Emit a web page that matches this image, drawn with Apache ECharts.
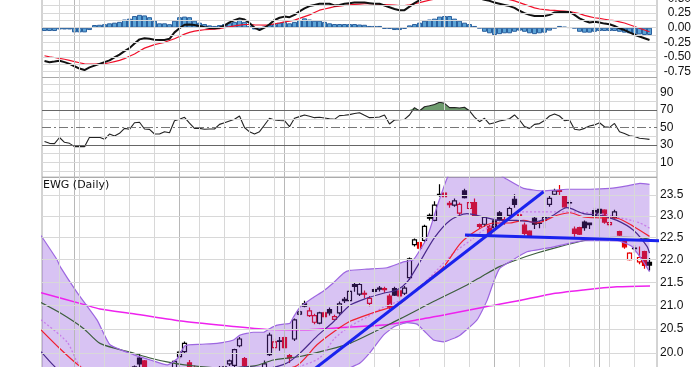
<!DOCTYPE html>
<html><head><meta charset="utf-8">
<script src="https://cdn.jsdelivr.net/npm/echarts@6/dist/echarts.min.js"></script>
<style>html,body{margin:0;padding:0;background:#fff}#c{width:700px;height:367px}</style>
</head><body><div id="c"></div>
<script>
// ---- data (day index 0..122, last slot empty) ----
const days = Array.from({length:123}, (_, i) => String(i));
// candles: [open, close, low, high]
const candles = [
[19.6,19.5,19.4,19.7],[19.5,19.35,19.3,19.55],[19.4,19.35,19.25,19.45],[19.35,19.55,19.3,19.6],[19.5,19.35,19.3,19.55],
[19.35,19.3,19.2,19.4],[19.3,19.12,19.05,19.35],[19.15,19.1,19.0,19.2],[19.1,19.08,18.95,19.15],[19.1,19.4,19.05,19.45],
[19.4,19.38,19.3,19.5],[19.35,19.42,19.3,19.5],[19.45,19.35,19.3,19.5],[19.35,19.5,19.3,19.55],[19.5,19.45,19.4,19.55],
[19.45,19.55,19.4,19.6],[19.55,19.68,19.5,19.72],[19.7,19.64,19.58,19.73],[19.62,19.72,19.6,19.75],[19.9,19.78,19.7,19.98],
[19.84,19.65,19.6,19.86],[19.66,19.62,19.55,19.7],[19.6,19.5,19.45,19.63],[19.5,19.48,19.4,19.55],[19.48,19.56,19.45,19.6],
[19.56,19.5,19.45,19.6],[19.6,19.83,19.55,19.85],[19.93,20.02,19.88,20.06],[20.03,20.2,20.0,20.24],[19.8,19.72,19.65,19.86],
[19.7,19.65,19.6,19.75],[19.64,19.66,19.58,19.72],[19.66,19.6,19.55,19.7],[19.6,19.62,19.55,19.68],[19.62,19.62,19.55,19.7],
[19.62,19.7,19.58,19.74],[19.7,19.72,19.65,19.75],[19.78,19.84,19.74,19.87],[19.75,20.07,19.7,20.09],[20.15,20.29,20.12,20.33],
[19.89,19.75,19.7,19.92],[19.72,19.6,19.55,19.74],[19.6,19.5,19.45,19.62],[19.5,19.58,19.45,19.62],[19.7,19.78,19.65,19.85],
[19.97,20.37,19.94,20.42],[20.11,20.23,20.05,20.3],[20.24,20.25,20.05,20.33],[20.32,20.11,20.08,20.35],[19.95,19.9,19.8,19.98],
[20.29,20.69,20.25,20.72],[20.81,20.86,20.78,20.9],[21.03,20.98,20.96,21.1],[20.78,20.88,20.75,20.95],[20.64,20.78,20.6,20.82],
[20.62,20.84,20.6,20.86],[20.84,20.76,20.72,20.88],[20.91,20.84,20.78,20.95],[20.7,20.76,20.68,20.8],[20.84,21.03,20.8,21.08],
[21.13,21.1,21.05,21.18],[21.1,21.3,21.08,21.33],[21.45,21.41,21.29,21.5],[21.24,21.45,21.2,21.48],[21.26,21.24,21.15,21.32],
[21.04,21.15,20.98,21.2],[21.34,21.3,21.25,21.38],[21.35,21.37,21.3,21.42],[21.36,21.34,21.27,21.4],[21.2,20.96,20.92,21.25],
[21.36,21.22,21.2,21.4],[21.31,21.2,21.15,21.35],[21.26,21.37,21.22,21.42],[21.6,22.02,21.55,22.05],[22.34,22.45,22.3,22.48],
[22.39,22.26,22.22,22.42],[22.44,22.76,22.4,22.8],[23.02,22.95,22.9,23.06],[22.9,23.26,22.88,23.35],[23.5,23.52,23.46,23.76],
[23.55,23.46,23.44,23.58],[23.3,23.27,23.2,23.36],[23.26,23.36,23.22,23.42],[23.07,23.28,23.0,23.32],[23.6,23.44,23.42,23.65],
[23.18,23.32,23.15,23.34],[23.32,23.02,22.98,23.42],[22.8,22.76,22.7,22.83],[22.81,22.97,22.75,23.0],[22.76,22.58,22.55,22.8],
[22.89,22.73,22.68,22.92],[23.08,22.9,22.88,23.12],[22.92,22.88,22.8,22.98],[23.02,23.18,22.98,23.22],[23.4,23.28,23.2,23.52],
[23.03,23.01,22.98,23.08],[22.79,22.6,22.55,22.85],[22.65,22.53,22.5,22.67],[22.95,22.81,22.7,23.0],[22.83,22.84,22.72,22.88],
[22.9,22.97,22.72,23.0],[23.28,23.42,23.22,23.5],[23.52,23.6,23.48,23.65],[23.61,23.59,23.48,23.74],[23.48,23.22,23.2,23.5],
[23.31,23.32,23.15,23.38],[22.7,22.6,22.52,22.76],[22.73,22.58,22.56,22.75],[22.86,22.73,22.66,22.9],[22.84,22.8,22.7,22.85],
[23.13,22.98,22.94,23.2],[23.16,23.07,23.05,23.18],[23.14,22.86,22.82,23.16],[22.8,22.85,22.76,22.92],[22.97,23.1,22.94,23.15],
[22.64,22.56,22.54,22.66],[22.41,22.29,22.25,22.44],[22.0,22.15,21.98,22.17],[22.25,22.26,22.15,22.33],[21.95,22.05,21.9,22.3],
[22.18,21.87,21.8,22.2],[21.94,21.88,21.76,22.04]
];
const macd = [-0.57,-0.59,-0.58,-0.565,-0.59,-0.62,-0.66,-0.70,-0.725,-0.68,-0.65,-0.62,-0.59,-0.56,-0.51,-0.46,-0.40,-0.35,-0.27,-0.20,
-0.18,-0.19,-0.205,-0.21,-0.21,-0.19,-0.08,-0.01,0.05,0.055,0.045,0.03,0.01,-0.005,-0.01,0.0,0.04,0.09,0.13,0.16,
0.14,0.08,0.0,-0.04,0.0,0.06,0.13,0.17,0.19,0.18,0.22,0.28,0.33,0.37,0.39,0.41,0.41,0.41,0.38,0.39,
0.41,0.42,0.43,0.43,0.43,0.42,0.41,0.41,0.38,0.35,0.32,0.30,0.30,0.36,0.42,0.47,0.52,0.56,0.60,0.63,
0.65,0.64,0.63,0.62,0.61,0.58,0.54,0.50,0.48,0.46,0.43,0.41,0.39,0.37,0.34,0.29,0.25,0.22,0.20,0.20,
0.20,0.22,0.26,0.27,0.27,0.27,0.22,0.16,0.12,0.09,0.10,0.09,0.07,0.06,0.03,-0.01,-0.04,-0.08,-0.12,-0.15,
-0.18,-0.21];
const signal = [-0.48,-0.50,-0.51,-0.525,-0.54,-0.56,-0.58,-0.60,-0.62,-0.625,-0.625,-0.62,-0.615,-0.60,-0.58,-0.56,-0.53,-0.49,-0.45,-0.40,
-0.35,-0.32,-0.29,-0.27,-0.25,-0.22,-0.19,-0.15,-0.11,-0.08,-0.06,-0.045,-0.035,-0.03,-0.025,-0.015,0.0,0.015,0.03,0.045,
0.055,0.055,0.05,0.046,0.045,0.05,0.065,0.08,0.10,0.11,0.13,0.16,0.19,0.22,0.26,0.30,0.32,0.34,0.36,0.37,
0.38,0.39,0.40,0.405,0.41,0.41,0.41,0.40,0.395,0.39,0.385,0.38,0.38,0.39,0.41,0.43,0.45,0.47,0.49,0.51,
0.53,0.54,0.55,0.56,0.57,0.575,0.575,0.57,0.56,0.55,0.535,0.52,0.50,0.48,0.46,0.43,0.40,0.37,0.34,0.32,
0.31,0.30,0.295,0.29,0.285,0.275,0.26,0.24,0.21,0.19,0.17,0.16,0.145,0.13,0.12,0.10,0.08,0.05,0.02,-0.01,
-0.04,-0.07];
const hist = [-0.057,-0.057,-0.057,-0.03,-0.03,-0.03,-0.08,-0.08,-0.08,-0.04,0.046,0.05,0.06,0.075,0.086,0.1,0.14,0.155,0.2,0.22,
0.21,0.18,0.12,0.075,0.075,0.06,0.12,0.18,0.19,0.18,0.12,0.086,0.063,0.04,0.03,0.046,0.063,0.086,0.1,0.14,
0.1,0.03,-0.03,-0.04,0.017,0.046,0.063,0.086,0.1,0.075,0.1,0.13,0.16,0.14,0.12,0.12,0.1,0.075,0.063,0.063,
0.063,0.063,0.063,0.055,0.05,0.03,0.03,0.03,-0.02,-0.02,-0.04,-0.04,-0.02,0.04,0.063,0.086,0.12,0.14,0.155,0.19,
0.2,0.2,0.155,0.12,0.086,0.063,0.03,-0.01,-0.07,-0.096,-0.125,-0.11,-0.096,-0.096,-0.07,-0.05,-0.07,-0.096,-0.11,-0.096,
-0.085,-0.05,-0.01,0.03,0.017,0.005,-0.01,-0.07,-0.085,-0.085,-0.07,-0.057,-0.057,-0.057,-0.057,-0.07,-0.085,-0.096,-0.11,-0.115,
-0.125,-0.125];
const rsi = [34,31.8,31.5,38.5,33,31.8,28,28,28,38.7,38.5,38.7,36.4,42.5,40.2,43.3,49,47.9,55.5,56,
48.3,47.9,42.5,42.5,45.2,44,57.8,59.5,61.7,55,49,49,48,48.3,48.3,53.6,55.5,57.5,59.4,63.2,
50,45,42.5,45.2,52.9,60.6,58.6,58,57.8,50.9,60.6,62.5,64.4,63,61.3,61.7,61,60,59.4,63.6,
64,64.8,66,67,64,61.3,61.5,62,64.4,54,58.6,59,59.4,64.4,72.8,69,73.9,75,76.5,79,
77.8,72.8,73,72.5,73.2,69,62,56.7,60.6,54,55.5,57.5,58.6,60,64.4,58.6,51,49,53.6,54.5,
58,63.2,65.5,63.2,57.8,58.6,47.9,47.1,49,51.7,53,55.5,50.9,50.2,54.7,45.2,43,40.5,39.6,37.6,
37,36.4];
// overlays: [day index, price]
const bbUpper = [[-0.7,22.55],[2.5,22.0],[3.1,21.85],[6.5,21.28],[10.5,20.69],[13.1,20.17],[17.8,19.97],[21.8,19.84],[24.5,19.76],[26.5,19.88],[28.1,20.15],[31.1,20.18],[34.5,20.2],[37.8,20.27],[39.1,20.37],[41.8,20.43],[43.8,20.43],[45.1,20.51],[46.5,20.58],[47.8,20.6],[49.1,20.62],[49.8,20.75],[51.1,20.96],[53.8,21.17],[55.8,21.31],[57.8,21.49],[59.8,21.7],[61.1,21.76],[64.5,21.79],[68.5,21.82],[71.8,21.95],[73.8,22.0],[76.5,22.5],[78.5,23.22],[80.5,23.9],[82,24.2],[88,24.2],[91,24.0],[92.5,23.88],[95.8,23.66],[99.8,23.6],[104.5,23.64],[109.1,23.64],[113.1,23.66],[116.5,23.72],[119.1,23.78],[121,23.76]];
const bbLower = [[-0.7,18.8],[5,18.6],[10,18.7],[15,19.0],[20,19.2],[25,19.3],[30,19.35],[35,19.3],[40,19.25],[45,19.2],[50,19.1],[55,19.2],[58,19.45],[61.1,19.7],[63.1,19.8],[65,20.0],[67.8,20.37],[70,20.55],[72.5,20.63],[74.5,20.6],[76,20.45],[77.8,20.27],[79.8,20.23],[83.1,20.37],[86.5,20.69],[88.5,21.1],[89.8,21.5],[91,21.8],[93,21.95],[96.5,22.18],[100.5,22.26],[104.5,22.36],[107.8,22.43],[111.8,22.43],[115,22.42],[117.5,22.3],[119.5,22.0],[121,21.73]];
const bbMiddle = [[-0.7,20.69],[4.5,20.23],[7,19.75],[10,19.6],[15,19.45],[20,19.4],[25,19.45],[30,19.5],[35,19.55],[40,19.6],[45,19.62],[50,19.7],[55,19.9],[58,20.3],[61,20.55],[64.5,20.75],[67.8,20.96],[72.5,21.17],[77,21.6],[81.8,22.15],[85.1,22.43],[87.8,22.67],[91.1,22.84],[95.8,23.1],[99.8,23.1],[104.5,23.1],[111.1,23.06],[114.5,22.98],[119.1,22.84],[121,22.72]];
const fastMA = [[-0.7,20.03],[1.8,19.75],[5,19.45],[10,19.35],[15,19.45],[20,19.65],[25,19.6],[30,19.7],[35,19.65],[40,19.72],[45,19.7],[48.5,19.8],[51.1,20.0],[54.5,20.35],[57.8,20.65],[61.1,21.0],[64.4,21.15],[67.8,21.26],[70.5,21.33],[72.5,21.5],[74.5,21.84],[78,22.5],[81.1,22.9],[84.5,23.06],[87.8,22.98],[91.1,22.9],[94.4,22.9],[97.8,22.86],[101.1,22.98],[104.5,23.2],[107.8,23.06],[111.1,23.02],[114.5,22.9],[117.8,22.67],[120.5,22.3],[121,22.15]];
const redMA = [[-0.7,20.48],[3,20.1],[6.5,19.78],[10,19.55],[20,19.5],[30,19.6],[40,19.65],[50,19.72],[54.5,20.17],[58,20.45],[61.1,20.66],[66,20.85],[71.1,21.04],[75,21.4],[79.8,21.84],[83.1,22.36],[86.5,22.67],[89.8,22.84],[93.1,22.84],[95.8,22.9],[98.5,22.84],[102.5,23.02],[105.1,23.08],[107.8,22.98],[111.1,22.96],[114.5,22.95],[117.8,22.76],[121,22.53]];
const sma50 = [[-0.7,21.06],[3.1,20.84],[7.8,20.51],[11.1,20.2],[17.8,20.0],[21.1,19.9],[24.5,19.82],[28,19.76],[35,19.7],[42,19.74],[45.8,19.86],[51.1,19.93],[56,20.05],[61.1,20.2],[71.1,20.71],[77.8,21.08],[84.5,21.44],[87.8,21.65],[91.1,21.85],[94.5,22.0],[98.5,22.15],[102.5,22.28],[107.8,22.43],[111.8,22.5],[115.8,22.51],[119.1,22.5],[121,22.46]];
const sma200 = [[-0.7,21.27],[7.8,21.02],[11.1,20.92],[17.8,20.82],[27.8,20.66],[37.8,20.55],[44.5,20.49],[51,20.48],[61.1,20.54],[67.8,20.58],[74.5,20.69],[81.1,20.82],[87.8,20.96],[94.5,21.09],[101.1,21.24],[107.8,21.33],[114.5,21.4],[121.1,21.42]];
const trendUp = [[46.04,19.07],[99.8,23.58]];
const trendFlat = [[84.1,22.56],[125.8,22.42]];
// axes / grid ticks
const weekLines = [3,7,12,17,22,27,31,36,41,46,51,56,61,66,71,75,80,85,90,95,100,105,110,113,118];
const monthLines = [6,27,48,71,90,111];
const macdTicks = [-0.75,-0.5,-0.25,0,0.25,0.5,0.75];
const macdGrid = [-0.75,-0.625,-0.5,-0.375,-0.25,-0.125,0,0.125,0.25,0.375,0.5,0.625,0.75,0.875];
const rsiTicks = [10,30,50,70,90];
const rsiGrid = [0,10,20,40,60,80,90,100];
const rsiBands = [30,70];
const rsiMid = [50];
const priceTicks = [20,20.5,21,21.5,22,22.5,23,23.5];

// ---- build ----
const candleItems = candles.map((d, i) => {
  const [o, c, l, h] = d;
  const prev = i > 0 ? candles[i - 1][1] : c;
  const col = c < prev ? '#e80000' : '#000000';
  const fill = c > o ? 'rgba(0,0,0,0)' : col;
  return {value: [o, c, l, h], itemStyle: {color: fill, color0: fill, borderColor: col, borderColor0: col, borderColorDoji: col}};
});
const rsiOB = rsi.map(v => Math.max(v - 70, 0));
const rsiOSBase = rsi.map(v => Math.min(v, 30));
const rsiOS = rsi.map(v => 30 - Math.min(v, 30));

const GL = '#d8d8d8';
function hLines(vals, color, type) {
  return {silent: true, symbol: 'none', animation: false, label: {show: false},
    lineStyle: {color: color, width: 1, type: type || 'solid'}, emphasis: {disabled: true},
    data: vals.map(v => ({yAxis: v}))};
}
function vLines(vals, color) {
  return {silent: true, symbol: 'none', animation: false, label: {show: false},
    lineStyle: {color: color, width: 1, type: 'solid'}, emphasis: {disabled: true},
    data: vals.map(v => ({xAxis: v}))};
}
const L = 42, W = 615;
const gridBase = {left: L, width: W, containLabel: false, outerBoundsMode: 'none'};
const labelFont = {fontFamily: 'Liberation Sans', fontSize: 12, color: '#111'};
function lineS(data, color, width, extra) {
  return Object.assign({type: 'line', xAxisIndex: 5, yAxisIndex: 2, data: data, showSymbol: false, symbol: 'none',
    smooth: 0.25, lineStyle: {color: color, width: width}, z: 4, silent: true, animation: false}, extra || {});
}

const option = {
  animation: false,
  backgroundColor: '#ffffff',
  grid: [
    Object.assign({top: -25, height: 102.5, show: true, borderColor: '#a8a8a8', borderWidth: 1, backgroundColor: 'transparent'}, gridBase),
    Object.assign({top: 77.5, height: 99.8, show: true, borderColor: '#a8a8a8', borderWidth: 1, backgroundColor: 'transparent'}, gridBase),
    Object.assign({top: 177.3, height: 242.7, show: true, borderColor: '#a8a8a8', borderWidth: 1, backgroundColor: 'transparent'}, gridBase),
    Object.assign({top: 0, height: 367}, gridBase)
  ],
  xAxis: [
    {type: 'category', gridIndex: 0, data: days, show: false},
    {type: 'category', gridIndex: 1, data: days, show: false},
    {type: 'category', gridIndex: 2, data: days, show: false},
    {type: 'value', gridIndex: 0, min: -0.5, max: 122.5, show: false},
    {type: 'value', gridIndex: 1, min: -0.5, max: 122.5, show: false},
    {type: 'value', gridIndex: 2, min: -0.5, max: 122.5, show: false},
    {type: 'value', gridIndex: 3, min: -0.5, max: 122.5, show: false}
  ],
  yAxis: [
    {type: 'value', gridIndex: 0, position: 'right', min: -0.8527, max: 0.9024, splitLine: {show: false},
      axisLine: {show: false}, axisTick: {show: false, customValues: macdTicks},
      axisLabel: Object.assign({customValues: macdTicks, align: 'right', margin: 34, formatter: v => Number(v).toFixed(2)}, labelFont)},
    {type: 'value', gridIndex: 1, position: 'right', min: -7.24, max: 107.47, splitLine: {show: false},
      axisLine: {show: false}, axisTick: {show: false, customValues: rsiTicks},
      axisLabel: Object.assign({customValues: rsiTicks, align: 'left', margin: 3, formatter: v => String(Math.round(v))}, labelFont)},
    {type: 'log', logBase: 10, gridIndex: 2, position: 'right', min: 18.68, max: 23.93, splitLine: {show: false},
      axisLine: {show: false}, axisTick: {show: false, customValues: priceTicks},
      axisLabel: Object.assign({customValues: priceTicks, align: 'left', margin: 3, formatter: v => Number(v).toFixed(1)}, labelFont)},
    {type: 'value', gridIndex: 3, min: 0, max: 1, show: false}
  ],
  graphic: [
    {type: 'text', left: 43, top: 180, z: 100, style: {text: 'EWG (Daily)', font: '11px "DejaVu Sans"', fill: '#111'}}
  ],
  series: [
    {type: 'line', xAxisIndex: 6, yAxisIndex: 3, data: [], z: 0, markLine: vLines(weekLines, GL)},
    {type: 'line', xAxisIndex: 6, yAxisIndex: 3, data: [], z: 0, markLine: vLines(monthLines, '#b8b8b8')},
    {type: 'line', xAxisIndex: 3, yAxisIndex: 0, data: [], z: 0, markLine: hLines(macdGrid, GL)},
    {type: 'line', xAxisIndex: 4, yAxisIndex: 1, data: [], z: 0, markLine: hLines(rsiGrid, GL)},
    {type: 'line', xAxisIndex: 5, yAxisIndex: 2, data: [], z: 0, markLine: hLines(priceTicks, GL)},
    {type: 'bar', xAxisIndex: 0, yAxisIndex: 0, data: hist, barWidth: 5, z: 2, silent: true,
      itemStyle: {color: '#5ba3d6', borderColor: '#2b609e', borderWidth: 1}},
    {type: 'line', xAxisIndex: 0, yAxisIndex: 0, data: signal, showSymbol: false, symbol: 'none', z: 3, silent: true,
      lineStyle: {color: '#f0102a', width: 1.2}},
    {type: 'line', xAxisIndex: 0, yAxisIndex: 0, data: macd, showSymbol: false, symbol: 'none', z: 4, silent: true,
      lineStyle: {color: '#111111', width: 2}},
    {type: 'line', xAxisIndex: 4, yAxisIndex: 1, data: [], z: 1, markLine: hLines(rsiBands, '#666666')},
    {type: 'line', xAxisIndex: 4, yAxisIndex: 1, data: [], z: 1, markLine: hLines(rsiMid, '#777777', [9, 3, 2, 3])},
    {type: 'line', xAxisIndex: 1, yAxisIndex: 1, data: rsi.map(() => 70), stack: 'ob', showSymbol: false, symbol: 'none',
      lineStyle: {opacity: 0}, z: 2, silent: true},
    {type: 'line', xAxisIndex: 1, yAxisIndex: 1, data: rsiOB, stack: 'ob', showSymbol: false, symbol: 'none',
      lineStyle: {opacity: 0}, areaStyle: {color: '#6e9c6e', opacity: 1}, z: 2, silent: true},
    {type: 'line', xAxisIndex: 1, yAxisIndex: 1, data: rsiOSBase, stack: 'os', showSymbol: false, symbol: 'none',
      lineStyle: {opacity: 0}, z: 2, silent: true},
    {type: 'line', xAxisIndex: 1, yAxisIndex: 1, data: rsiOS, stack: 'os', showSymbol: false, symbol: 'none',
      lineStyle: {opacity: 0}, areaStyle: {color: '#9a7080', opacity: 1}, z: 2, silent: true},
    {type: 'line', xAxisIndex: 1, yAxisIndex: 1, data: rsi, showSymbol: false, symbol: 'none', z: 3, silent: true,
      lineStyle: {color: '#222222', width: 1.1}},
    {type: 'candlestick', xAxisIndex: 2, yAxisIndex: 2, data: candleItems, barWidth: 4, z: 2, silent: true,
      itemStyle: {borderWidth: 1.2}},
    {type: 'custom', xAxisIndex: 5, yAxisIndex: 2, data: [0], clip: true, z: 3, silent: true,
      renderItem: function (params, api) {
        const pts = bbUpper.map(p => api.coord(p)).concat(bbLower.slice().reverse().map(p => api.coord(p)));
        return {type: 'polygon', shape: {points: pts}, style: {fill: 'rgba(125,55,215,0.30)', stroke: 'none'}};
      }},
    lineS(sma200, '#ee22ee', 1.5),
    lineS(sma50, '#3d5e3d', 1.2),
    lineS(bbMiddle, '#c080e8', 1.3, {lineStyle: {color: '#c77ee8', width: 1.3, type: [2, 2]}}),
    lineS(redMA, '#f02030', 1.2),
    lineS(fastMA, '#4a2a8c', 1.2),
    lineS(bbUpper, '#9d66e0', 1.2, {smooth: 0.15}),
    lineS(bbLower, '#9d66e0', 1.2, {smooth: 0.15}),
    lineS(trendUp, '#1a22ee', 3, {smooth: false, clip: false, z: 6}),
    lineS(trendFlat, '#1a22ee', 3, {smooth: false, clip: false, z: 6})
  ]
};
const chart = echarts.init(document.getElementById('c'), null, {renderer: 'canvas'});
chart.setOption(option);
</script>
</body></html>
